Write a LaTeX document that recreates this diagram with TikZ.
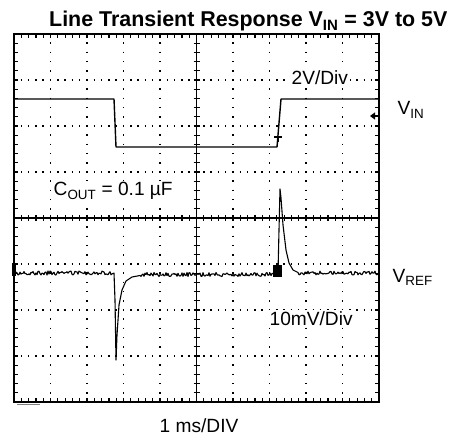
\documentclass[tikz,border=0pt]{standalone}
\usepackage{fontspec}
\setmainfont{Liberation Sans}
\usetikzlibrary{calc,arrows.meta}
\tikzstyle{cadre} = [draw=black, line width=1.4bp]
\tikzstyle{pointsV} = [draw=black, line width=1.5bp, dash pattern=on 1.5bp off 7.7bp, dash phase=0.75bp]
\tikzstyle{pointsH} = [draw=black, line width=1.5bp, dash pattern=on 1.5bp off 5.8bp, dash phase=0.75bp]
\tikzstyle{signal} = [draw=black, line width=1.4bp, line join=round]
\tikzstyle{etiquette} = [anchor=base west, inner sep=1.5bp, font=\fontsize{19.2}{21}\selectfont]

\begin{document}
\begin{tikzpicture}[x=1bp, y=-1bp]
        \useasboundingbox (0,0) rectangle (455,438);

        % grille pointillee
        \foreach \i in {1,2,3,4,6,7,8,9}
            \draw[pointsV] ({14+36.5*\i},34) -- ({14+36.5*\i},402);
        \foreach \j in {1,2,3,5,6,7}
            \draw[pointsH] (14,{34+46*\j}) -- (379,{34+46*\j});

        % axes centraux et graduations
        \draw[cadre] (14,218) -- (379,218);
        \draw[cadre] (196.5,34) -- (196.5,402);
        \foreach \k in {1,...,49} {
            \draw[line width=1.2bp] ({14+7.3*\k},215) -- ({14+7.3*\k},221);
            \draw[line width=1.2bp] ({14+7.3*\k},34) -- ({14+7.3*\k},38);
            \draw[line width=1.2bp] ({14+7.3*\k},398) -- ({14+7.3*\k},402);
        }
        \foreach \k in {1,...,39} {
            \draw[line width=1.2bp] (193.5,{34+9.2*\k}) -- (199.5,{34+9.2*\k});
            \draw[line width=1.2bp] (14,{34+9.2*\k}) -- (18,{34+9.2*\k});
            \draw[line width=1.2bp] (375,{34+9.2*\k}) -- (379,{34+9.2*\k});
        }
        \draw[cadre] (14,34) rectangle (379,402);
        \draw[line width=1bp, gray] (17,404) -- (40,404);

        % trace VIN
        \draw[signal] (14,99) -- (114,99) -- (116,147) -- (277,147) -- (281,99) -- (379,99);
        \draw[line width=1.2bp] (274,137) -- (282,137) (278,137) -- (278,142);
        \draw[line width=1.2bp, -{Triangle[length=5bp, width=7bp]}] (378,116) -- (370,116);

        % trace VREF
        \pgfmathsetseed{7}
        \draw[signal, line width=1.1bp] (14,273)
            \foreach \x in {15,16,...,112} { -- (\x,{273+2*rand}) }
            -- (114,273) -- (115,300) -- (116,360) -- (117,335) -- (119,305) -- (122,290)
            -- (126,281) -- (132,277) -- (140,275.5)
            \foreach \x in {141,142,...,272} { -- (\x,{274.5+2*rand}) }
            -- (278,273) -- (279,230) -- (280,189) -- (281,198) -- (283,225) -- (286,250)
            -- (289,263) -- (293,270) -- (298,272.5)
            \foreach \x in {299,300,...,379} { -- (\x,{273+2*rand}) };
        \fill (273,265) rectangle (282,277);
        \fill (12,263) rectangle (16,276);

        % textes
        \node (T1) [anchor=base west, inner sep=0, font=\fontsize{21.5}{24}\selectfont\bfseries] at (49,27) {Line Transient Response V\textsubscript{IN} = 3V to 5V};
        \node (D1) [etiquette, fill=white] at (290,85) {2V/Div};
        \node (V1) [etiquette] at (396,115) {V\textsubscript{IN}};
        \node (C1) [etiquette, fill=white] at (52,196) {C\textsubscript{OUT} = 0.1 µF};
        \node (V2) [etiquette] at (391,282) {V\textsubscript{REF}};
        \node (D2) [etiquette, fill=white] at (268,325) {10mV/Div};
        \node (H1) [etiquette] at (158,432) {1 ms/DIV};

    \end{tikzpicture}
\end{document}
